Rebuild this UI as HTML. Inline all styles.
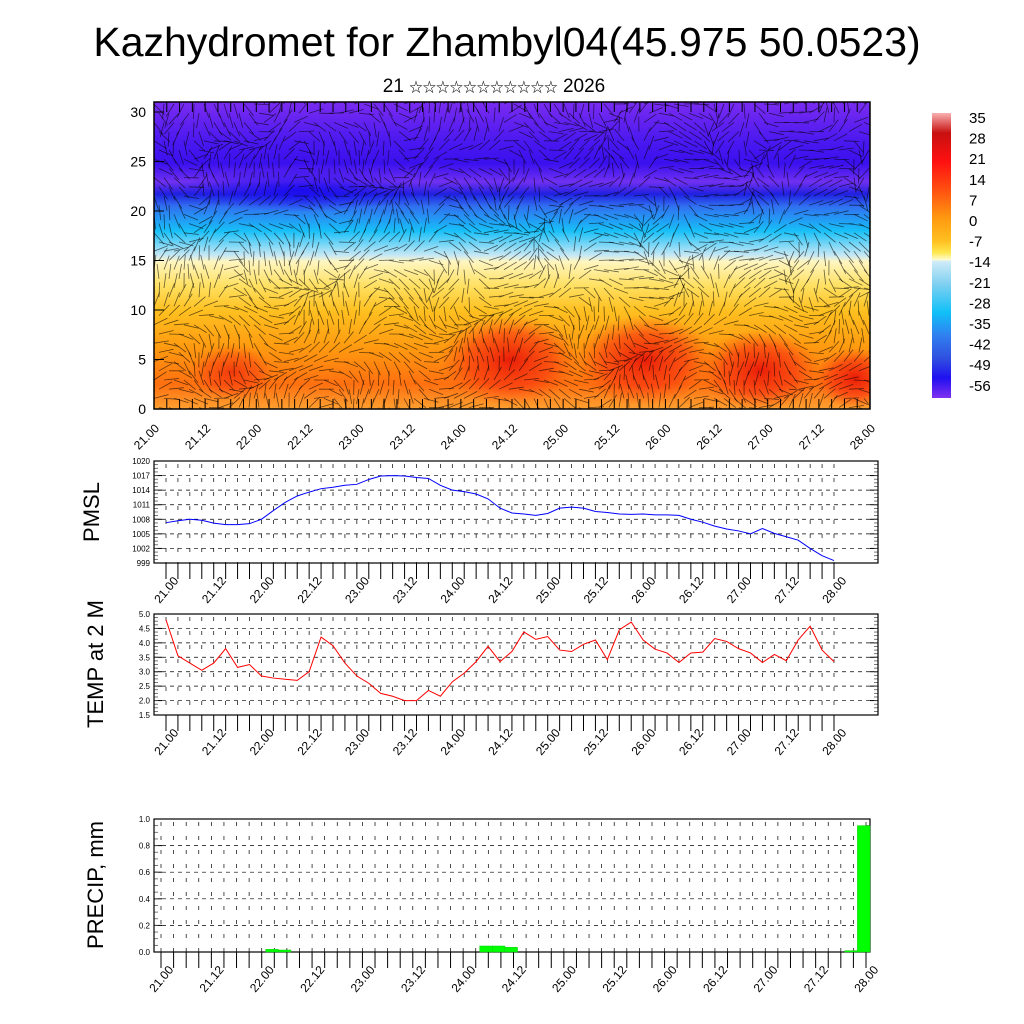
<!DOCTYPE html>
<html><head><meta charset="utf-8"><style>
body{margin:0;background:#fff;}
svg{display:block;font-family:"Liberation Sans","Noto Sans CJK SC",sans-serif;}
</style></head><body>
<svg id="s" width="1024" height="1024" viewBox="0 0 1024 1024">
<defs>
<linearGradient id="gT" x1="0" y1="102" x2="0" y2="409" gradientUnits="userSpaceOnUse">
<stop offset="0" stop-color="#7a2cf0"/>
<stop offset="0.13" stop-color="#4a18f0"/>
<stop offset="0.2" stop-color="#3a10ee"/>
<stop offset="0.26" stop-color="#7030f0"/>
<stop offset="0.3" stop-color="#2020e0"/>
<stop offset="0.34" stop-color="#3070f0"/>
<stop offset="0.42" stop-color="#18c0f8"/>
<stop offset="0.5" stop-color="#c8e8f4"/>
<stop offset="0.52" stop-color="#fff6c0"/>
<stop offset="0.6" stop-color="#ffe060"/>
<stop offset="0.68" stop-color="#ffc020"/>
<stop offset="0.8" stop-color="#ff9a10"/>
<stop offset="0.92" stop-color="#ff7010"/>
<stop offset="1" stop-color="#ffa030"/>
</linearGradient>
<radialGradient id="gR"><stop offset="0" stop-color="#e81808" stop-opacity="0.95"/><stop offset="0.6" stop-color="#f83010" stop-opacity="0.6"/><stop offset="1" stop-color="#ff5010" stop-opacity="0"/></radialGradient>
<radialGradient id="gB"><stop offset="0" stop-color="#1808f0" stop-opacity="0.9"/><stop offset="1" stop-color="#2010f0" stop-opacity="0"/></radialGradient>
<linearGradient id="gC" x1="0" y1="0" x2="0" y2="1">
<stop offset="0" stop-color="#f8b0b0"/>
<stop offset="0.07" stop-color="#c81010"/>
<stop offset="0.17" stop-color="#ff1010"/>
<stop offset="0.27" stop-color="#ff5010"/>
<stop offset="0.37" stop-color="#ff9a10"/>
<stop offset="0.45" stop-color="#ffc020"/>
<stop offset="0.49" stop-color="#ffe850"/>
<stop offset="0.515" stop-color="#fffcd0"/>
<stop offset="0.52" stop-color="#d0ecf8"/>
<stop offset="0.6" stop-color="#80d0f0"/>
<stop offset="0.7" stop-color="#10c0f8"/>
<stop offset="0.78" stop-color="#3080f0"/>
<stop offset="0.86" stop-color="#3050e0"/>
<stop offset="0.93" stop-color="#2010f0"/>
<stop offset="1" stop-color="#8030f0"/>
</linearGradient>
<clipPath id="cT"><rect x="154" y="102" width="716" height="307"/></clipPath>
</defs>
<text x="507" y="56" text-anchor="middle" font-size="41">Kazhydromet for Zhambyl04(45.975 50.0523)</text>
<text x="494" y="92" text-anchor="middle" font-size="19">21 <tspan font-size="13.5">☆☆☆☆☆☆☆☆☆☆☆</tspan> 2026</text>
<g id="top">
<g clip-path="url(#cT)" id="topfill">
<rect x="154" y="102" width="716" height="307" fill="url(#gT)"/>
<ellipse cx="300" cy="190" rx="120" ry="22" fill="url(#gB)"/>
<ellipse cx="232" cy="372" rx="42" ry="28" fill="url(#gR)" opacity="0.7"/>
<ellipse cx="510" cy="360" rx="70" ry="45" fill="url(#gR)"/>
<ellipse cx="645" cy="360" rx="70" ry="45" fill="url(#gR)"/>
<ellipse cx="760" cy="370" rx="60" ry="40" fill="url(#gR)"/>
<ellipse cx="855" cy="378" rx="40" ry="30" fill="url(#gR)"/>
<g id="vec" stroke="#000" stroke-opacity="0.6" stroke-width="0.8"></g>
</g>
<rect x="154" y="102" width="716" height="307" fill="none" stroke="#000" stroke-width="1.5"/>
</g>
<rect x="932" y="113" width="19" height="285" fill="url(#gC)"/>
<g id="cbl" font-size="15"></g>
<g id="panels"></g>
<text transform="translate(99,512) rotate(-90)" text-anchor="middle" font-size="22">PMSL</text>
<text transform="translate(103,664) rotate(-90)" text-anchor="middle" font-size="22">TEMP at 2 M</text>
<text transform="translate(103,885) rotate(-90)" text-anchor="middle" font-size="22">PRECIP, mm</text>
</svg>
<script>
const NS='http://www.w3.org/2000/svg';
const dateLabels=['21.00','21.12','22.00','22.12','23.00','23.12','24.00','24.12','25.00','25.12','26.00','26.12','27.00','27.12','28.00'];
const heightTicks=[0,5,10,15,20,25,30];
const colorbarLabels=['35','28','21','14','7','0','-7','-14','-21','-28','-35','-42','-49','-56'];
const pmslTicks=[999,1002,1005,1008,1011,1014,1017,1020];
const pmslValues=[1007.3,1007.7,1008.0,1007.8,1007.2,1006.9,1006.9,1007.1,1008.0,1009.8,1011.5,1012.8,1013.6,1014.3,1014.6,1015.0,1015.2,1016.2,1016.9,1017.0,1016.9,1016.6,1016.4,1015.0,1014.0,1013.7,1013.2,1012.2,1010.3,1009.3,1009.1,1008.8,1009.2,1010.3,1010.5,1010.3,1009.6,1009.4,1009.1,1009.0,1009.1,1008.9,1008.9,1008.8,1008.0,1007.4,1006.6,1006.0,1005.6,1005.0,1006.1,1005.1,1004.4,1003.7,1002.0,1000.5,999.5];
const tempTicks=['1.5','2.0','2.5','3.0','3.5','4.0','4.5','5.0'];
const tempValues=[4.8,3.55,3.3,3.05,3.3,3.8,3.15,3.25,2.85,2.78,2.74,2.7,3.0,4.2,3.9,3.3,2.85,2.6,2.25,2.15,2.0,2.0,2.35,2.15,2.65,2.95,3.35,3.88,3.35,3.7,4.38,4.12,4.22,3.75,3.7,3.95,4.1,3.42,4.45,4.72,4.1,3.78,3.65,3.32,3.65,3.68,4.15,4.05,3.8,3.65,3.32,3.6,3.38,4.1,4.58,3.75,3.35];
const precipTicks=['0.0','0.2','0.4','0.6','0.8','1.0'];
const precipValues=[0,0,0,0,0,0,0,0,0.02,0.015,0,0,0,0,0,0,0,0,0,0,0,0,0,0,0,0.045,0.045,0.035,0,0,0,0,0,0,0,0,0,0,0,0,0,0,0,0,0,0,0,0,0,0,0,0,0,0,0.01,0.95,0];

function el(t,a,p){const e=document.createElementNS(NS,t);for(const k in a)e.setAttribute(k,a[k]);(p||document.getElementById('panels')).appendChild(e);return e;}
function txt(x,y,s,fs,anchor,p,rot){const t=el('text',{x:x,y:y,'font-size':fs,'text-anchor':anchor||'end'},p);if(rot)t.setAttribute('transform','rotate('+rot+' '+x+' '+y+')');t.textContent=s;return t;}

const topG=document.getElementById('top');
const hY=h=>409-h*9.9;
heightTicks.forEach(h=>{const t=txt(146,hY(h)+5,String(h),14,'end',topG);


const l=el('line',{x1:154,x2:164,y1:hY(h),y2:hY(h),stroke:'#000'},topG);

});
const tX=i=>154+i*716/56;
dateLabels.forEach((d,k)=>{const x=tX(k*4);const t=txt(x+6,429,d,12,'end',topG,-45);

});
for(let i=0;i<=56;i++){const l=el('line',{x1:tX(i),x2:tX(i),y1:409,y2:399,stroke:'#000'},topG);


const l2=el('line',{x1:tX(i),x2:tX(i),y1:102,y2:112,stroke:'#000'},topG);

}
const vg=document.getElementById('vec');
for(let i=0;i<72;i++)for(let j=0;j<34;j++){
 const x=154+i*10+ (j%2)*5, y=104+j*9.2;
 const a=Math.sin(i*0.35+j*0.21)*1.2+Math.cos(j*0.5-i*0.13)*0.8+ (j<22?0.6*Math.sin(i*0.9):0);
 const L=15;
 const l=el('line',{x1:x,y1:y,x2:x+L*Math.cos(a),y2:y+L*Math.sin(a)},vg);
 
 
}
const cbl=document.getElementById('cbl');
colorbarLabels.forEach((s,k)=>{const t=txt(969,123+k*20.6,s,15,'start',cbl);

});

function panel(name,top,bot,left,right,x0,x1,ticks,vmin,vmax,lx,ly){
 const g=el('g',{});
 
 
 const yS=v=>bot-(v-vmin)/(vmax-vmin)*(bot-top);
 const xS=i=>x0+i*(x1-x0)/56;
 ticks.forEach(v=>{const y=yS(+v);
  const gl=el('line',{x1:left,x2:right,y1:y,y2:y,stroke:'#000','stroke-dasharray':'4,4','stroke-width':0.7},g);
  
  
  const t=txt(left-4,y+3,v,8,'end',g);
  
  
  const tk=el('line',{x1:left,x2:left+8,y1:y,y2:y,stroke:'#000'},g);
  
  
  const tk2=el('line',{x1:right,x2:right-8,y1:y,y2:y,stroke:'#000'},g);
  
  
 });
 for(let m=0;m<(ticks.length-1)*4;m++){const y=bot-m*(bot-top)/((ticks.length-1)*4);
  const a=el('line',{x1:left,x2:left+4,y1:y,y2:y,stroke:'#555','stroke-width':0.8},g);
  
  
  const b=el('line',{x1:right,x2:right-4,y1:y,y2:y,stroke:'#555','stroke-width':0.8},g);
  
  }
 for(let i=0;i<=56;i++){const x=xS(i);
  const vl=el('line',{x1:x,x2:x,y1:top+3,y2:bot,stroke:'#000','stroke-dasharray':'4,10','stroke-width':0.7},g);
  
  
  const tk=el('line',{x1:x,x2:x,y1:bot,y2:bot+16,stroke:'#000'},g);
  
  }
 dateLabels.forEach((d,k)=>{const x=xS(k*4);const t=txt(x+lx,bot+ly,d,12,'end',g,-50);
  
  });
 const fr=el('rect',{x:left,y:top,width:right-left,height:bot-top,fill:'none',stroke:'#000','stroke-width':1.2},g);
 
 
 return {g,xS,yS};
}
const p1=panel('pmsl',461,563,154,878,166,834,pmslTicks.map(String),999,1020,13,18);
const l1=el('polyline',{points:pmslValues.map((v,i)=>p1.xS(i)+','+p1.yS(v)).join(' '),fill:'none',stroke:'#0000ff','stroke-width':1},p1.g);


const p2=panel('temp',614,715,154,878,166,834,tempTicks,1.5,5.0,13,18);
const l2=el('polyline',{points:tempValues.map((v,i)=>p2.xS(i)+','+p2.yS(v)).join(' '),fill:'none',stroke:'#ff0000','stroke-width':1},p2.g);


const p3=panel('precip',819,952,154,870,161,866,precipTicks,0,1.0,13,18);
precipValues.forEach((v,i)=>{if(v<=0)return;const xa=p3.xS(i)+4,xb=Math.min(p3.xS(i+1)+4,870);
 const r=el('rect',{x:xa,y:p3.yS(v),width:xb-xa,height:952-p3.yS(v),fill:'#00ff00',stroke:'#00cc00','stroke-width':0.5},p3.g);
 
 });
</script>
</body></html>
